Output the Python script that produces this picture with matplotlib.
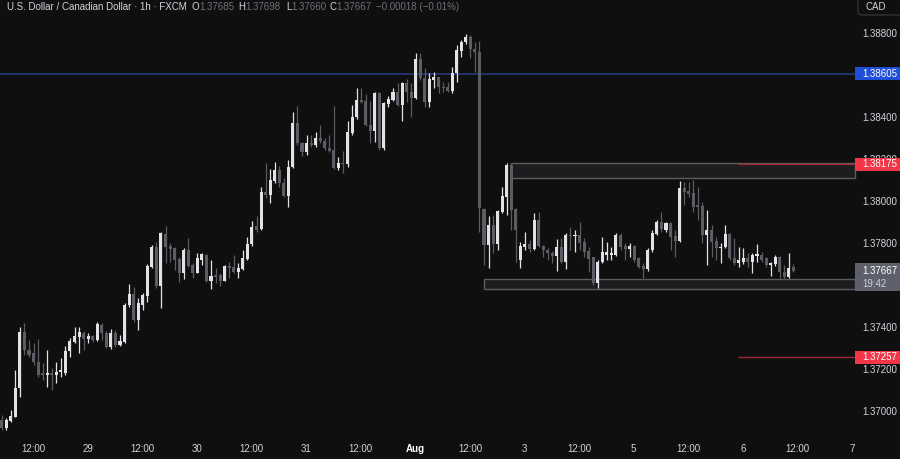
import numpy as np
import matplotlib.pyplot as plt
from matplotlib.patches import Rectangle, FancyBboxPatch

plt.rcParams['font.family'] = ['Liberation Sans', 'DejaVu Sans']

# USD/CAD 1h candles
opens = [1.36957, 1.36919, 1.36952, 1.36971, 1.37110, 1.37376, 1.37290, 1.37276, 1.37233, 1.37181,
         1.37171, 1.37181, 1.37171, 1.37186, 1.37181, 1.37286, 1.37329, 1.37352, 1.37371, 1.37343,
         1.37357, 1.37338, 1.37410, 1.37371, 1.37305, 1.37371, 1.37314, 1.37329, 1.37505, 1.37557,
         1.37433, 1.37505, 1.37548, 1.37686, 1.37781, 1.37595, 1.37843, 1.37786, 1.37776, 1.37724,
         1.37657, 1.37767, 1.37695, 1.37657, 1.37719, 1.37743, 1.37619, 1.37648, 1.37648, 1.37619,
         1.37690, 1.37686, 1.37662, 1.37676, 1.37724, 1.37795, 1.37881, 1.37867, 1.38043, 1.38029,
         1.38095, 1.38148, 1.38086, 1.38024, 1.38162, 1.38371, 1.38276, 1.38233, 1.38276, 1.38267,
         1.38300, 1.38286, 1.38252, 1.38243, 1.38157, 1.38181, 1.38176, 1.38324, 1.38400, 1.38481,
         1.38476, 1.38362, 1.38333, 1.38514, 1.38252, 1.38462, 1.38481, 1.38519, 1.38457, 1.38562,
         1.38519, 1.38490, 1.38676, 1.38586, 1.38471, 1.38576, 1.38590, 1.38543, 1.38543, 1.38524,
         1.38610, 1.38714, 1.38757, 1.38781, 1.38724, 1.38710, 1.37962, 1.37790, 1.37886, 1.37795,
         1.37948, 1.38019, 1.38171, 1.37962, 1.37719, 1.37781, 1.37795, 1.37771, 1.37910, 1.37786,
         1.37767, 1.37752, 1.37738, 1.37781, 1.37710, 1.37838, 1.37833, 1.37838, 1.37805, 1.37762,
         1.37733, 1.37610, 1.37710, 1.37743, 1.37743, 1.37743, 1.37838, 1.37786, 1.37771, 1.37786,
         1.37729, 1.37690, 1.37676, 1.37767, 1.37843, 1.37900, 1.37862, 1.37895, 1.37833, 1.37810,
         1.38062, 1.38048, 1.38038, 1.37981, 1.37976, 1.37838, 1.37862, 1.37810, 1.37776, 1.37781,
         1.37843, 1.37729, 1.37705, 1.37710, 1.37729, 1.37710, 1.37738, 1.37743, 1.37729, 1.37695,
         1.37700, 1.37733, 1.37662, 1.37638, 1.37685]
highs = [1.36981, 1.36967, 1.37005, 1.37195, 1.37400, 1.37419, 1.37338, 1.37324, 1.37343, 1.37229,
         1.37290, 1.37205, 1.37233, 1.37252, 1.37310, 1.37348, 1.37400, 1.37400, 1.37381, 1.37371,
         1.37362, 1.37424, 1.37419, 1.37381, 1.37390, 1.37386, 1.37362, 1.37514, 1.37605, 1.37590,
         1.37538, 1.37562, 1.37700, 1.37790, 1.37805, 1.37852, 1.37881, 1.37800, 1.37781, 1.37733,
         1.37776, 1.37824, 1.37705, 1.37752, 1.37752, 1.37748, 1.37719, 1.37681, 1.37657, 1.37695,
         1.37710, 1.37743, 1.37705, 1.37767, 1.37829, 1.37905, 1.37929, 1.38067, 1.38181, 1.38152,
         1.38186, 1.38167, 1.38110, 1.38195, 1.38424, 1.38452, 1.38281, 1.38314, 1.38314, 1.38329,
         1.38362, 1.38300, 1.38314, 1.38452, 1.38210, 1.38238, 1.38381, 1.38457, 1.38538, 1.38538,
         1.38510, 1.38476, 1.38519, 1.38519, 1.38471, 1.38500, 1.38538, 1.38562, 1.38567, 1.38581,
         1.38562, 1.38705, 1.38705, 1.38633, 1.38610, 1.38614, 1.38590, 1.38567, 1.38567, 1.38638,
         1.38743, 1.38767, 1.38795, 1.38790, 1.38757, 1.38762, 1.37967, 1.37929, 1.37933, 1.37957,
         1.38067, 1.38181, 1.38181, 1.37967, 1.37805, 1.37852, 1.37814, 1.37943, 1.37948, 1.37790,
         1.37776, 1.37762, 1.37819, 1.37824, 1.37848, 1.37876, 1.37862, 1.37900, 1.37824, 1.37781,
         1.37733, 1.37719, 1.37829, 1.37805, 1.37781, 1.37848, 1.37848, 1.37800, 1.37800, 1.37790,
         1.37733, 1.37705, 1.37776, 1.37862, 1.37910, 1.37948, 1.37900, 1.37900, 1.37862, 1.38095,
         1.38090, 1.38090, 1.38100, 1.38067, 1.37995, 1.37957, 1.37886, 1.37829, 1.37800, 1.37886,
         1.37848, 1.37824, 1.37781, 1.37776, 1.37752, 1.37752, 1.37795, 1.37757, 1.37733, 1.37710,
         1.37743, 1.37738, 1.37695, 1.37752, 1.37698]
lows = [1.36910, 1.36910, 1.36948, 1.36971, 1.37067, 1.37267, 1.37257, 1.37219, 1.37162, 1.37148,
        1.37114, 1.37100, 1.37133, 1.37162, 1.37171, 1.37257, 1.37324, 1.37276, 1.37290, 1.37324,
        1.37329, 1.37333, 1.37338, 1.37300, 1.37295, 1.37305, 1.37310, 1.37324, 1.37495, 1.37424,
        1.37386, 1.37481, 1.37519, 1.37681, 1.37586, 1.37490, 1.37705, 1.37710, 1.37671, 1.37614,
        1.37629, 1.37686, 1.37633, 1.37657, 1.37695, 1.37614, 1.37581, 1.37610, 1.37595, 1.37619,
        1.37633, 1.37657, 1.37633, 1.37671, 1.37719, 1.37786, 1.37852, 1.37862, 1.38014, 1.37990,
        1.38086, 1.38067, 1.38019, 1.37971, 1.38157, 1.38267, 1.38214, 1.38219, 1.38257, 1.38257,
        1.38276, 1.38243, 1.38233, 1.38152, 1.38148, 1.38133, 1.38162, 1.38314, 1.38390, 1.38467,
        1.38357, 1.38276, 1.38281, 1.38243, 1.38243, 1.38448, 1.38476, 1.38452, 1.38381, 1.38471,
        1.38400, 1.38486, 1.38576, 1.38448, 1.38448, 1.38538, 1.38514, 1.38519, 1.38519, 1.38514,
        1.38567, 1.38686, 1.38748, 1.38681, 1.38614, 1.37852, 1.37695, 1.37681, 1.37752, 1.37767,
        1.37943, 1.37933, 1.37862, 1.37710, 1.37681, 1.37767, 1.37757, 1.37767, 1.37781, 1.37733,
        1.37719, 1.37705, 1.37667, 1.37705, 1.37676, 1.37767, 1.37757, 1.37767, 1.37733, 1.37662,
        1.37600, 1.37586, 1.37705, 1.37719, 1.37719, 1.37738, 1.37767, 1.37719, 1.37733, 1.37710,
        1.37681, 1.37633, 1.37667, 1.37757, 1.37838, 1.37852, 1.37852, 1.37767, 1.37733, 1.37805,
        1.37981, 1.38019, 1.37948, 1.37910, 1.37800, 1.37695, 1.37733, 1.37719, 1.37705, 1.37776,
        1.37719, 1.37695, 1.37686, 1.37700, 1.37686, 1.37657, 1.37710, 1.37710, 1.37686, 1.37643,
        1.37690, 1.37633, 1.37629, 1.37633, 1.37660]
closes = [1.36919, 1.36957, 1.36976, 1.37110, 1.37376, 1.37290, 1.37267, 1.37233, 1.37171, 1.37171,
          1.37181, 1.37171, 1.37186, 1.37195, 1.37286, 1.37333, 1.37357, 1.37376, 1.37343, 1.37357,
          1.37338, 1.37414, 1.37371, 1.37305, 1.37371, 1.37314, 1.37333, 1.37505, 1.37557, 1.37433,
          1.37514, 1.37552, 1.37690, 1.37781, 1.37595, 1.37848, 1.37781, 1.37771, 1.37719, 1.37657,
          1.37767, 1.37690, 1.37657, 1.37729, 1.37748, 1.37619, 1.37643, 1.37638, 1.37619, 1.37690,
          1.37681, 1.37662, 1.37681, 1.37729, 1.37795, 1.37876, 1.37862, 1.38043, 1.38029, 1.38100,
          1.38148, 1.38086, 1.38024, 1.38162, 1.38371, 1.38276, 1.38233, 1.38276, 1.38267, 1.38300,
          1.38286, 1.38252, 1.38238, 1.38157, 1.38181, 1.38176, 1.38329, 1.38400, 1.38481, 1.38471,
          1.38362, 1.38333, 1.38514, 1.38252, 1.38467, 1.38486, 1.38519, 1.38457, 1.38562, 1.38519,
          1.38490, 1.38676, 1.38586, 1.38471, 1.38581, 1.38590, 1.38543, 1.38538, 1.38524, 1.38610,
          1.38719, 1.38757, 1.38781, 1.38724, 1.38710, 1.37967, 1.37790, 1.37886, 1.37795, 1.37952,
          1.38024, 1.38171, 1.37957, 1.37862, 1.37786, 1.37795, 1.37771, 1.37910, 1.37786, 1.37767,
          1.37752, 1.37738, 1.37781, 1.37710, 1.37838, 1.37833, 1.37838, 1.37800, 1.37757, 1.37724,
          1.37610, 1.37710, 1.37757, 1.37757, 1.37752, 1.37838, 1.37781, 1.37771, 1.37786, 1.37719,
          1.37686, 1.37676, 1.37767, 1.37848, 1.37900, 1.37867, 1.37895, 1.37829, 1.37810, 1.38062,
          1.38043, 1.38033, 1.37971, 1.37971, 1.37838, 1.37862, 1.37805, 1.37776, 1.37781, 1.37843,
          1.37729, 1.37705, 1.37719, 1.37729, 1.37710, 1.37743, 1.37748, 1.37719, 1.37695, 1.37705,
          1.37733, 1.37662, 1.37638, 1.37681, 1.37667]

time_labels = ["12:00", "29", "12:00", "30", "12:00", "31", "12:00", "Aug",
               "12:00", "3", "12:00", "5", "12:00", "6", "12:00", "7"]
# 1.38600 and 1.37600 sit fully behind the price tags, so they are not shown
price_ticks = [1.388, 1.384, 1.382, 1.380, 1.378, 1.374, 1.372, 1.370]

blue_level = 1.38605
red_levels = [1.38175, 1.37257]
last_price = 1.37667
countdown = "19:42"
upper_zone = (1.38110, 1.38182)
lower_zone = (1.37581, 1.37629)

header = "U.S. Dollar / Canadian Dollar · 1h · FXCM"
ohlc_text = [("O", "1.37685"), ("H", "1.37698"), ("L", "1.37660"), ("C", "1.37667")]
change_text = "\u22120.00018 (\u22120.01%)"

BG = "#0f0f0f"
BULL = "#e2e2e4"
BEAR = "#5b5d64"
TXT = "#d1d4dc"
MUTED = "#6d707a"

# pixel layout helpers (900x459 canvas)
X0, XSTEP = 1.7, 4.55
YPX = 21000.0  # pixels per price unit


def px2i(px):
    return (px - X0) / XSTEP


fig = plt.figure(figsize=(9, 4.59), dpi=100, facecolor=BG)
ax = fig.add_axes([0, 27 / 459, 1, 432 / 459], facecolor=BG)
ax.set_xlim(px2i(0), px2i(900))
ax.set_ylim(1.3895714 - 432 / YPX, 1.3895714)
for s in ax.spines.values():
    s.set_visible(False)

o = np.array(opens)
h = np.array(highs)
l = np.array(lows)
c = np.array(closes)
h = np.maximum(h, np.maximum(o, c))
l = np.minimum(l, np.minimum(o, c))
x = np.arange(len(o))
up = c >= o
cols = np.where(up, BULL, BEAR)

# zones
right_edge = px2i(855)
for lo, hi, start in [(upper_zone[0], upper_zone[1], px2i(511)), (lower_zone[0], lower_zone[1], px2i(484))]:
    ax.add_patch(Rectangle((start, lo), right_edge - start, hi - lo, facecolor="#1d1d1f",
                           edgecolor="#5c5d62", lw=1.0, zorder=2))

ax.hlines(blue_level, px2i(0), right_edge, color="#22397a", lw=1.2, zorder=1)
for lv in red_levels:
    ax.hlines(lv, px2i(738), right_edge, color="#9c2a33", lw=1.0, zorder=2.5)

ax.vlines(x, l, h, colors=cols, lw=0.9, zorder=3)
ax.bar(x, np.maximum(np.abs(c - o), 0.00005), bottom=np.minimum(o, c), width=0.66,
       color=cols, linewidth=0, zorder=4)

# price axis
ax.yaxis.tick_right()
ax.set_yticks(price_ticks, [f"{p:.5f}" for p in price_ticks])
ax.tick_params(axis="y", length=0, pad=-27.4, labelsize=7, labelcolor=TXT)

# time axis
ax.set_xticks([6.9 + 12 * k for k in range(len(time_labels))], time_labels)
ax.tick_params(axis="x", length=0, pad=8.5, labelsize=7, labelcolor=TXT)
ax.get_xticklabels()[7].set_fontweight("bold")
ax.get_xticklabels()[7].set_color("white")

# price labels on the axis
lab_x0, lab_x1 = px2i(855), px2i(900)
half = 6.5 / YPX


def price_tag(price, text, fc, top=None, bottom=None):
    t = price + half if top is None else top
    b = price - half if bottom is None else bottom
    ax.add_patch(Rectangle((lab_x0, b), lab_x1 - lab_x0, t - b, facecolor=fc,
                           edgecolor="none", zorder=6))
    ax.text(px2i(862), price, text, color="white", fontsize=7, va="center", ha="left", zorder=7)


price_tag(blue_level, f"{blue_level:.5f}", "#1f4fd6")
price_tag(red_levels[0], f"{red_levels[0]:.5f}", "#f23645")
price_tag(red_levels[1], f"{red_levels[1]:.5f}", "#f23645")
price_tag(last_price, f"{last_price:.5f}", "#5d606b",
          top=last_price + 8 / YPX, bottom=last_price - 20 / YPX)
ax.text(px2i(862), last_price - 13 / YPX, countdown, color=TXT, fontsize=7,
        va="center", ha="left", zorder=7)

# CAD button
fig.add_artist(FancyBboxPatch((858 / 900, 1 - 15 / 459), 60 / 900, 22 / 459,
                              boxstyle="round,pad=0,rounding_size=0.006",
                              transform=fig.transFigure, facecolor=BG,
                              edgecolor="#3a3a3c", lw=0.8))
fig.text(866 / 900, 1 - 7 / 459, "CAD", color=TXT, fontsize=7, va="center", ha="left")

# header line
ty = 1 - 7 / 459
fig.text(7 / 900, ty, header, color=TXT, fontsize=7, va="center", ha="left")
for (k, v), xk, xv in zip(ohlc_text, [192, 238, 286, 330], [199, 245, 291, 336]):
    fig.text(xk / 900, ty, k, color=TXT, fontsize=7, va="center", ha="left")
    fig.text(xv / 900, ty, v, color=MUTED, fontsize=7, va="center", ha="left")
fig.text(376 / 900, ty, change_text, color=MUTED, fontsize=7, va="center", ha="left")

fig.savefig("out.png", dpi=100, facecolor=BG)
